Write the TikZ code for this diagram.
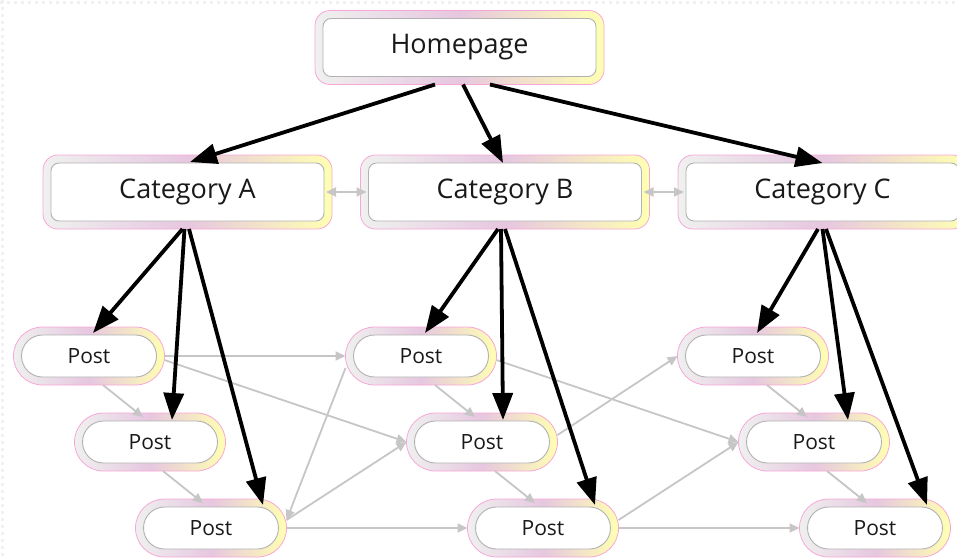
\documentclass[tikz,border=0pt]{standalone}
\usepackage{fontspec}
\setmainfont{Open Sans}
\usetikzlibrary{arrows.meta}

\begin{document}
\begin{tikzpicture}[x=1pt, y=-1pt,
  band/.style={draw=magenta!35, line width=0.8pt, inner sep=0pt, outer sep=0pt, text=black!90,
    left color=violet!10!green!6!gray!12, right color=yellow!30, middle color=pink!35!violet!30!white,
    path picture={\draw[gray!60, fill=white, line width=0.9pt, rounded corners=#1]
      ([shift={(8pt,8pt)}]path picture bounding box.south west) rectangle
      ([shift={(-8pt,-8pt)}]path picture bounding box.north east);}},
  box/.style={band=8pt, minimum width=289pt, minimum height=74pt, rounded corners=15pt,
    font=\fontsize{27}{30}\selectfont},
  post/.style={band=21pt, minimum width=151pt, minimum height=58pt, rounded corners=29pt,
    font=\fontsize{21}{24}\selectfont},
  link/.style={-{Triangle[length=27pt,width=20pt]}, line width=3.8pt},
  thinlink/.style={-{Triangle[length=10pt,width=9pt]}, gray!45, line width=1.8pt},
  twolink/.style={{Triangle[length=10pt,width=9pt]}-{Triangle[length=10pt,width=9pt]},
    gray!45, line width=1.8pt, shorten <=-6pt, shorten >=-6pt}]
\useasboundingbox (0,0) rectangle (957,558);
\draw[gray!12, line width=3pt, dash pattern=on 3pt off 4pt] (0,2) -- (957,2);
\draw[gray!12, line width=3pt, dash pattern=on 3pt off 4pt] (2,0) -- (2,558);

\node[box] (home) at (459.5,47.5) {Homepage};
\node[box] (catA) at (187.5,192) {Category A};
\node[box] (catB) at (505,192) {Category B};
\node[box] (catC) at (822.5,192) {Category C};

\node[post] (a1) at (89,356) {Post};
\node[post] (a2) at (150,442) {Post};
\node[post] (a3) at (211,528) {Post};
\node[post] (b1) at (421,356) {Post};
\node[post] (b2) at (482,442) {Post};
\node[post] (b3) at (543,528) {Post};
\node[post] (c1) at (753,356) {Post};
\node[post] (c2) at (814,442) {Post};
\node[post] (c3) at (875,528) {Post};

\draw[twolink] (catA.east) -- (catB.west);
\draw[twolink] (catB.east) -- (catC.west);

\draw[thinlink] ([xshift=14pt]a1.south) -- ([xshift=-7pt,yshift=-4pt]a2.north);
\draw[thinlink] ([xshift=13pt]a2.south) -- ([xshift=-8pt,yshift=-4pt]a3.north);
\draw[thinlink] (a1.east) -- (b1.west);
\draw[thinlink] ([yshift=-4pt]a1.east) -- (b2.west);
\draw[thinlink] ([yshift=-12pt]b1.west) -- ([yshift=8pt]a3.east);
\draw[thinlink] ([yshift=8pt]a3.east) -- (b2.west);
\draw[thinlink] (a3.east) -- (b3.west);
\draw[thinlink] ([xshift=14pt]b1.south) -- ([xshift=-7pt,yshift=-4pt]b2.north);
\draw[thinlink] ([xshift=13pt]b2.south) -- ([xshift=-8pt,yshift=-4pt]b3.north);
\draw[thinlink] ([yshift=-4pt]b1.east) -- (c2.west);
\draw[thinlink] ([yshift=7pt]b2.east) -- (c1.west);
\draw[thinlink] ([yshift=8pt]b3.east) -- (c2.west);
\draw[thinlink] (b3.east) -- (c3.west);
\draw[thinlink] ([xshift=14pt]c1.south) -- ([xshift=-7pt,yshift=-4pt]c2.north);
\draw[thinlink] ([xshift=13pt]c2.south) -- ([xshift=-8pt,yshift=-4pt]c3.north);

\draw[link] ([xshift=-24.5pt]home.south) -- ([xshift=2.5pt,yshift=-7pt]catA.north);
\draw[link] ([xshift=3.5pt]home.south) -- ([xshift=-2pt,yshift=-8pt]catB.north);
\draw[link] ([xshift=30.5pt]home.south) -- ([yshift=-8pt]catC.north);

\draw[link] ([xshift=-5pt]catA.south) -- ([xshift=4pt,yshift=-6pt]a1.north);
\draw[link] ([xshift=-3pt]catA.south) -- ([xshift=22pt,yshift=-7pt]a2.north);
\draw[link] ([xshift=1.5pt]catA.south) -- ([xshift=52pt,yshift=-6pt]a3.north);
\draw[link] ([xshift=-7pt]catB.south) -- ([xshift=4pt,yshift=-6pt]b1.north);
\draw[link] ([xshift=-4pt]catB.south) -- ([xshift=21pt,yshift=-7pt]b2.north);
\draw[link] (catB.south) -- ([xshift=52pt,yshift=-6pt]b3.north);
\draw[link] ([xshift=-4.5pt]catC.south) -- ([xshift=4pt,yshift=-6pt]c1.north);
\draw[link] (catC.south) -- ([xshift=34pt,yshift=-7pt]c2.north);
\draw[link] ([xshift=3.5pt]catC.south) -- ([xshift=52pt,yshift=-6pt]c3.north);
\end{tikzpicture}
\end{document}
